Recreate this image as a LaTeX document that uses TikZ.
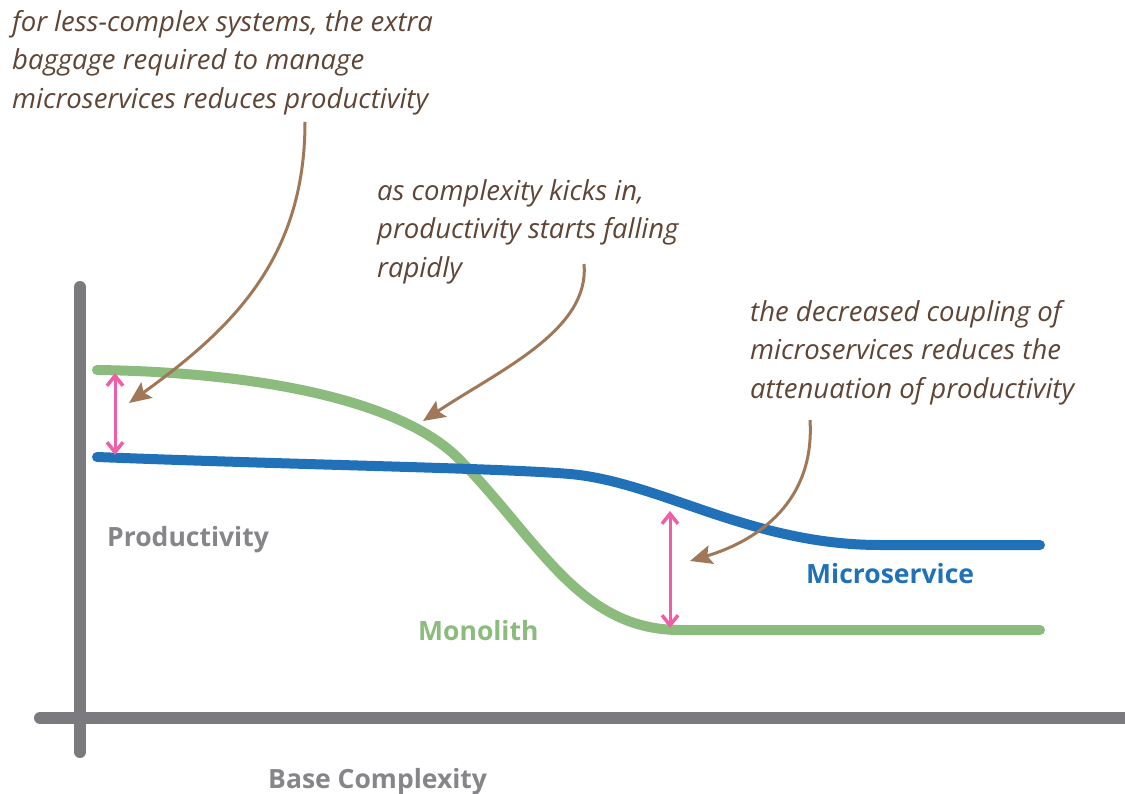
\documentclass[tikz,border=0pt]{standalone}
\usepackage{fontspec}
\setmainfont{Open Sans}
\usetikzlibrary{arrows.meta}

\definecolor{axisgray}{HTML}{7A7A7F}
\definecolor{labelgray}{HTML}{85858A}
\definecolor{monogreen}{HTML}{8CBB7E}
\definecolor{microblue}{HTML}{2171B9}
\definecolor{gappink}{HTML}{EE5FA7}
\definecolor{notebrown}{HTML}{A07858}
\definecolor{notetext}{HTML}{5E4535}

\begin{document}
\begin{tikzpicture}[x=1pt,y=-1pt,
  axis/.style={line width=12pt, line cap=round, axisgray},
  curve/.style={line width=10pt, line cap=round},
  gap/.style={line width=3pt, gappink, {Straight Barb[length=10pt,width=16pt,line width=3.5pt]}-{Straight Barb[length=10pt,width=16pt,line width=3.5pt]}},
  pointer/.style={line width=3pt, notebrown, -{Stealth[length=22pt,width=19pt,inset=4pt]}},
  note/.style={inner sep=0pt, anchor=north west, align=left, text=notetext,
    font=\fontsize{27.5}{38.5}\selectfont\itshape},
  tag/.style={inner sep=0pt, anchor=base west, font=\fontsize{26.5}{30}\selectfont\bfseries}]
\useasboundingbox (0,0) rectangle (1125,794);

% Axes
\draw[axis] (80,287) -- (80,752);
\draw[axis] (40,718) -- (1125,718);
\node[tag, text=labelgray] (prodlabel) at (107,546) {Productivity};
\node[tag, text=labelgray] (baselabel) at (268,788) {Base Complexity};

% Monolith and microservice curves
\draw[curve, monogreen] (97,370) .. controls (250,372) and (400,398) .. (460,460)
  .. controls (540,542) and (580,630) .. (680,630) -- (1040,630);
\draw[curve, microblue] (97,457) .. controls (300,465) and (500,468) .. (570,474)
  .. controls (660,482) and (750,545) .. (880,545) -- (1040,545);
\node[tag, text=monogreen] (monolabel) at (418,640) {Monolith};
\node[tag, text=microblue] (microlabel) at (806,583) {Microservice};

% Productivity gaps
\coordinate (mono1) at (115,373);
\coordinate (micro1) at (115,455);
\coordinate (micro2) at (670,511);
\coordinate (mono2) at (670,628);
\draw[gap] (mono1) -- (micro1);
\draw[gap] (micro2) -- (mono2);

% Annotations
\node[note] (note1) at (12,10) {for less-complex systems, the extra\\baggage required to manage\\microservices reduces productivity};
\node[note] (note2) at (377,179) {as complexity kicks in,\\productivity starts falling\\rapidly};
\node[note] (note3) at (750,300) {the decreased coupling of\\microservices reduces the\\attenuation of productivity};

\coordinate (tail1) at (305,122);
\coordinate (tip1) at (129,403);
\coordinate (tail2) at (584,264);
\coordinate (tip2) at (423,421);
\coordinate (tail3) at (810,420);
\coordinate (tip3) at (690,561);
\draw[pointer] (tail1) .. controls (305,260) and (230,330) .. (tip1);
\draw[pointer] (tail2) .. controls (590,330) and (500,370) .. (tip2);
\draw[pointer] (tail3) .. controls (815,500) and (760,540) .. (tip3);
\end{tikzpicture}
\end{document}
